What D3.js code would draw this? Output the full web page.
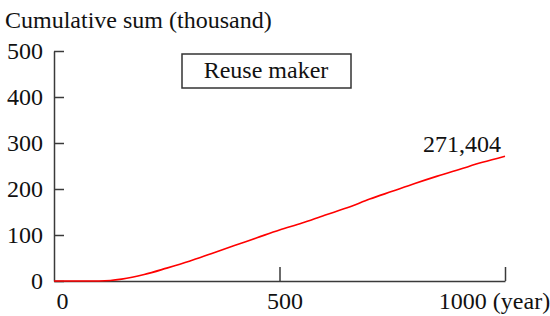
<!DOCTYPE html>
<html>
<head>
<meta charset="utf-8">
<script src="https://cdn.jsdelivr.net/npm/d3@7"></script>
<style>
    body { margin: 0; background: #fff; }
    svg text { font-family: "Liberation Serif", "Times New Roman", serif; fill: #111; }
    .axis path, .axis line { stroke: #3a3a3a; stroke-width: 1.5; }
</style>
</head>
<body>
<svg id="chart" width="550" height="316"></svg>
<script>
// data
var years = [0, 50, 100, 125, 150, 200, 250, 300, 350, 400, 450, 500, 550, 600, 650, 700, 750, 800, 850, 900, 950, 1000];
var cumulative = [0, 0, 0, 1, 4, 14, 28, 43, 60, 77, 94, 111, 126, 143, 159, 178, 195, 212, 228, 243, 258, 271.404];
var xTicks = [0, 500, 1000];
var yTicks = [0, 100, 200, 300, 400, 500];
var seriesName = "Reuse maker";
var yTitle = "Cumulative sum (thousand)";

var svg = d3.select("#chart"),
    fontSize = 24;

var x = d3.scaleLinear().domain([0, 1000]).range([54, 505]);
var y = d3.scaleLinear().domain([0, 500]).range([281, 51]);

// y axis, ticks pointing inward
var yAxis = svg.append("g").attr("class", "axis")
    .attr("transform", "translate(" + x(0) + ",0)")
    .call(d3.axisLeft(y).tickValues(yTicks).tickSizeInner(-10).tickSizeOuter(0).tickPadding(11));

// x axis, ticks pointing up
var xLabelShift = {0: 8, 500: 5, 1000: -11};
var xAxis = svg.append("g").attr("class", "axis")
    .attr("transform", "translate(0," + y(0) + ")")
    .call(d3.axisBottom(x).tickValues(xTicks).tickSizeInner(-14).tickSizeOuter(0).tickPadding(11)
        .tickFormat(function (d) { return d === 1000 ? "1000 (year)" : d; }));

svg.selectAll(".axis text")
    .style("font-family", "'Liberation Serif', 'Times New Roman', serif")
    .style("font-size", fontSize + "px")
    .attr("fill", "#111");
xAxis.selectAll(".tick text").attr("dx", function (d) { return xLabelShift[d]; });
xAxis.selectAll(".tick").filter(function (d) { return d === 0; }).select("line").remove();

// title
svg.append("text")
    .attr("x", 5).attr("y", 28)
    .style("font-size", fontSize + "px")
    .text(yTitle);

// legend box
svg.append("rect")
    .attr("x", 182).attr("y", 54).attr("width", 169).attr("height", 34)
    .attr("fill", "#fff").attr("stroke", "#333").attr("stroke-width", 1.5);
svg.append("text")
    .attr("x", 266).attr("y", 78)
    .attr("text-anchor", "middle")
    .style("font-size", fontSize + "px")
    .text(seriesName);

// line
var data = years.map(function (yr, i) { return {year: yr, value: cumulative[i]}; });
var line = d3.line()
    .x(function (d) { return x(d.year); })
    .y(function (d) { return y(d.value); })
    .curve(d3.curveMonotoneX);

svg.append("path")
    .datum(data)
    .attr("fill", "none")
    .attr("stroke", "#ff0000")
    .attr("stroke-width", 1.6)
    .attr("d", line);

// end value label
var last = data[data.length - 1];
svg.append("text")
    .attr("x", x(last.year) - 4)
    .attr("y", y(last.value) - 4)
    .attr("text-anchor", "end")
    .style("font-size", fontSize + "px")
    .text(d3.format(",")(Math.round(last.value * 1000)));
</script>
</body>
</html>
